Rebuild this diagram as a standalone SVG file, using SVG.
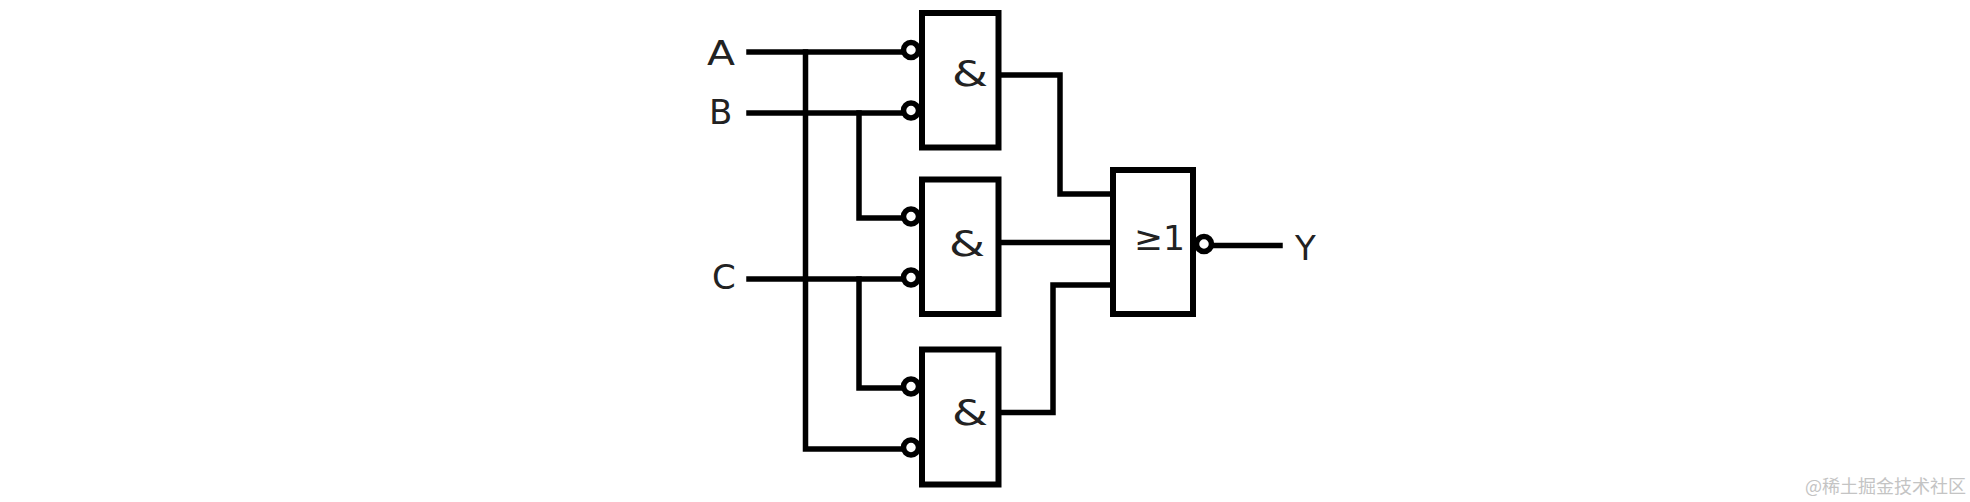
<svg xmlns="http://www.w3.org/2000/svg" width="1970" height="502" viewBox="0 0 1970 502">
<style>
.wire{fill:none;stroke:#000;stroke-width:5.500;stroke-linecap:square;stroke-linejoin:miter}
.box{fill:#fff;stroke:#000;stroke-width:6}
.bub{fill:#fff;stroke:#000;stroke-width:5.500}
.t{font-family:"DejaVu Sans",sans-serif;font-size:34px;fill:#222}
.amp{font-family:"DejaVu Sans",sans-serif;font-size:36px;fill:#222}
.wm{font-family:"Noto Sans CJK SC","Noto Sans",sans-serif;font-size:18px;fill:#c4c4c4}
</style>
<rect width="1970" height="502" fill="#fff"/>
<g id="connectors">
<path class="wire" d="M749 52H905"/>
<path class="wire" d="M749 113H905"/>
<path class="wire" d="M749 279H905"/>
<path class="wire" d="M805.500 52V449H905"/>
<path class="wire" d="M859 113V218H905"/>
<path class="wire" d="M859 279V388H905"/>
<path class="wire" d="M1000 75H1060V194H1112"/>
<path class="wire" d="M1000 242.500H1112"/>
<path class="wire" d="M1000 412.500H1053V285H1112"/>
<path class="wire" d="M1210 245.500H1280"/>
</g>
<g id="input-a"><text class="t" x="707" y="65" textLength="28" lengthAdjust="spacingAndGlyphs">A</text></g>
<g id="input-b"><text class="t" x="709" y="124">B</text></g>
<g id="input-c"><text class="t" x="712" y="289">C</text></g>
<g id="gate-and-1">
<circle class="bub" cx="911" cy="50" r="7.500"/>
<circle class="bub" cx="911" cy="110.500" r="7.500"/>
<rect class="box" x="922" y="13" width="76.500" height="134.500"/>
<text class="amp" x="952" y="86" textLength="36" lengthAdjust="spacingAndGlyphs">&amp;</text>
</g>
<g id="gate-and-2">
<circle class="bub" cx="911" cy="216.500" r="7.500"/>
<circle class="bub" cx="911" cy="277.500" r="7.500"/>
<rect class="box" x="922" y="179.500" width="76.500" height="134.500"/>
<text class="amp" x="949" y="256" textLength="36" lengthAdjust="spacingAndGlyphs">&amp;</text>
</g>
<g id="gate-and-3">
<circle class="bub" cx="911" cy="386.500" r="7.500"/>
<circle class="bub" cx="911" cy="447.500" r="7.500"/>
<rect class="box" x="922" y="349.500" width="76.500" height="135"/>
<text class="amp" x="952" y="425" textLength="36" lengthAdjust="spacingAndGlyphs">&amp;</text>
</g>
<g id="gate-nor">
<circle class="bub" cx="1204" cy="244" r="7.500"/>
<rect class="box" x="1113" y="170" width="80" height="144"/>
<text class="t" x="1134" y="250" textLength="51" lengthAdjust="spacingAndGlyphs">≥1</text>
</g>
<g id="output-y"><text class="t" x="1295" y="260">Y</text></g>
<g id="watermark"><text class="wm" x="1805" y="493">@稀土掘金技术社区</text></g>
</svg>
